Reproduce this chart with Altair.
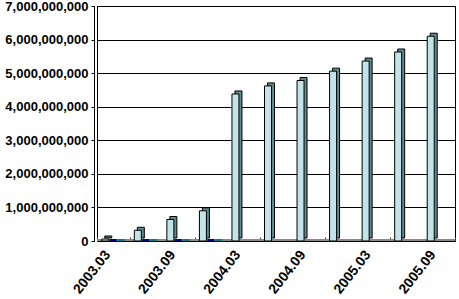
import altair as alt
import pandas as pd

dates = ["2003.03", "2003.06", "2003.09", "2003.12", "2004.03", "2004.06",
         "2004.09", "2004.12", "2005.03", "2005.06", "2005.09"]
values = [0.06e9, 0.32e9, 0.64e9, 0.9e9, 4.38e9, 4.62e9,
          4.78e9, 5.06e9, 5.36e9, 5.63e9, 6.1e9]
series2 = [0, 0, 0, 0]
series3 = [0, 0, 0, 0]
tick_labels = ["2003.03", "2003.09", "2004.03", "2004.09", "2005.03", "2005.09"]
y_ticks = [0, 1e9, 2e9, 3e9, 4e9, 5e9, 6e9, 7e9]

df = pd.DataFrame({"date": dates, "value": values})
df2 = pd.DataFrame({"date": dates[:len(series2)], "value": series2})
df3 = pd.DataFrame({"date": dates[:len(series3)], "value": series3})

FONT = "Liberation Sans"
xscale = alt.Scale(domain=dates, paddingInner=0, paddingOuter=0)
yscale = alt.Scale(domain=[0, 7e9], nice=False)

xaxis = alt.Axis(title=None, values=tick_labels, labelAngle=-52,
                 labelAlign="right", labelBaseline="middle",
                 labelFont=FONT, labelFontSize=14, labelFontWeight="bold",
                 labelColor="black", labelOffset=-6,
                 domain=False, ticks=True, tickBand="extent",
                 tickSize=4, tickColor="#404040", offset=-4,
                 labelPadding=11, grid=False)
yaxis = alt.Axis(title=None, format=",d", values=y_ticks,
                 labelFont=FONT, labelFontSize=13, labelFontWeight="bold",
                 labelColor="black", domainColor="black", tickColor="black",
                 tickSize=3, offset=3, labelPadding=3,
                 grid=True, gridColor="black", gridOpacity=1, gridWidth=1)

x_enc = alt.X("date:N", scale=xscale, sort=dates, axis=xaxis)
y_enc = alt.Y("value:Q", scale=yscale, axis=yaxis)

floor = alt.Chart(df).mark_rule(color="#8a8a8a", strokeWidth=2, yOffset=-1).encode(
    y=alt.Y(datum=0, scale=yscale, axis=yaxis), x=alt.value(0), x2=alt.value(358))

s2 = alt.Chart(df2).mark_bar(width=7, xOffset=0, stroke="#000080", strokeWidth=2,
                            color="#000080", yOffset=-1).encode(x=x_enc, y=y_enc)
s3 = alt.Chart(df3).mark_bar(width=7, xOffset=8, stroke="#008080", strokeWidth=2,
                            color="#008080", yOffset=-1).encode(x=x_enc, y=y_enc)

back = alt.Chart(df).mark_bar(width=7, xOffset=-5, yOffset=-3, color="#5C8A8E",
                              stroke="black", strokeWidth=1).encode(x=x_enc, y=y_enc)
front = alt.Chart(df).mark_bar(width=7, xOffset=-8, color="#C2E4E8",
                               stroke="black", strokeWidth=1).encode(x=x_enc, y=y_enc)

chart = alt.layer(back, floor, s2, s3, front).properties(
    width=358, height=235,
    padding={"left": 97, "top": 6, "right": 4, "bottom": 58},
    autosize=alt.AutoSizeParams(type="none"),
    background="white",
).configure_view(stroke="black", strokeWidth=1)

chart.save("out.html", embed_options={"renderer": "svg", "actions": False})
